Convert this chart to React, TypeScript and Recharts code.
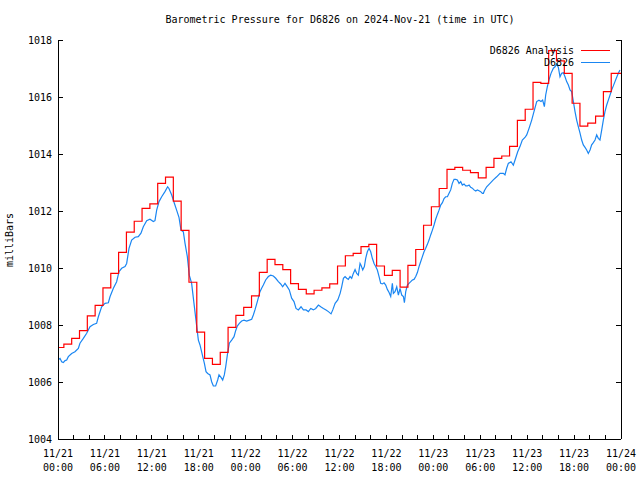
import { LineChart, Line, XAxis, YAxis } from "recharts"

// hourly analysis (step changes at hh:45)
const analysisMb = [
  1007.21, 1007.33, 1007.53, 1007.8, 1008.32, 1008.69, 1009.3, 1009.81, 1010.55, 1011.26,
  1011.64, 1012.09, 1012.25, 1012.97, 1013.19, 1012.35, 1011.32, 1009.5, 1007.75, 1006.83,
  1006.62, 1007.04, 1007.92, 1008.34, 1008.62, 1009.02, 1009.85, 1010.3, 1010.12, 1009.94,
  1009.45, 1009.25, 1009.09, 1009.22, 1009.3, 1009.44, 1010.07, 1010.43, 1010.51, 1010.75,
  1010.83, 1010.07, 1009.74, 1009.92, 1009.33, 1010.09, 1010.65, 1011.5, 1012.15, 1012.79,
  1013.46, 1013.53, 1013.43, 1013.35, 1013.16, 1013.53, 1013.85, 1013.93, 1014.27, 1015.18,
  1015.57, 1016.51, 1016.48, 1017.63, 1017.27, 1016.83, 1015.78, 1014.98, 1015.08, 1015.33,
  1016.19, 1016.83
]

// station observations, hours since 11/21 00:00
const obsHours = [
  0, 0.26, 0.47, 0.68, 0.9, 1.11, 1.32, 1.75, 2.17, 2.6, 2.81, 3.24, 3.67, 4.09, 4.52, 4.94,
  5.16, 5.58, 6.01, 6.44, 6.65, 7.08, 7.5, 7.8, 8.14, 8.57, 8.78, 9.08, 9.42, 9.85, 10.27,
  10.61, 10.91, 11.34, 11.76, 12.19, 12.4, 12.62, 12.92, 13.26, 13.68, 14.02, 14.19, 14.54,
  14.88, 15.17, 15.47, 15.73, 16.03, 16.24, 16.54, 16.79, 17.09, 17.39, 17.69, 17.95, 18.16,
  18.46, 18.72, 18.93, 19.14, 19.44, 19.65, 19.87, 20.16, 20.42, 20.59, 20.85, 21.06, 21.27,
  21.45, 21.66, 21.91, 22.21, 22.51, 22.72, 22.93, 23.19, 23.49, 23.79, 24.13, 24.47, 24.77,
  24.98, 25.19, 25.49, 25.83, 26.04, 26.26, 26.56, 26.9, 27.2, 27.54, 27.84, 28.18, 28.48,
  28.73, 29.03, 29.33, 29.58, 29.88, 30.18, 30.44, 30.74, 31.08, 31.38, 31.72, 32.02, 32.32,
  32.66, 32.96, 33.3, 33.6, 33.94, 34.28, 34.58, 34.92, 35.14, 35.44, 35.78, 36.08, 36.28,
  36.5, 36.71, 36.92, 37.13, 37.35, 37.56, 37.77, 37.99, 38.2, 38.41, 38.63, 38.75, 38.97,
  39.18, 39.35, 39.56, 39.78, 39.99, 40.2, 40.42, 40.63, 40.84, 41.06, 41.27, 41.48, 41.7,
  41.91, 42.12, 42.34, 42.55, 42.76, 42.89, 43.1, 43.32, 43.53, 43.74, 43.96, 44.17, 44.3,
  44.47, 44.68, 44.89, 45.11, 45.32, 45.53, 45.75, 45.96, 46.17, 46.38, 46.6, 46.81, 47.02,
  47.24, 47.45, 47.66, 47.88, 48.09, 48.3, 48.52, 48.73, 48.94, 49.16, 49.37, 49.58, 49.8,
  50.01, 50.22, 50.43, 50.65, 50.86, 51.07, 51.29, 51.5, 51.71, 51.93, 52.14, 52.35, 52.57,
  52.78, 52.99, 53.2, 53.42, 53.63, 53.84, 54.06, 54.27, 54.4, 54.53, 54.82, 55.25, 55.67,
  56.1, 56.53, 56.95, 57.16, 57.38, 57.59, 57.93, 58.23, 58.45, 58.79, 59.08, 59.38, 59.72,
  59.94, 60.24, 60.58, 60.87, 61.22, 61.51, 61.77, 61.98, 62.2, 62.37, 62.58, 62.79, 63.05,
  63.35, 63.56, 63.77, 63.99, 64.2, 64.41, 64.63, 64.84, 65.05, 65.27, 65.48, 65.69, 65.91,
  66.12, 66.33, 66.54, 66.76, 66.97, 67.18, 67.4, 67.61, 67.82, 68.04, 68.25, 68.46, 68.68,
  68.89, 69.1, 69.31, 69.53, 69.74, 69.95, 70.17, 70.38, 70.6, 70.81, 71.02, 71.23, 71.45,
  71.66, 71.87
]

const obsMb = [
  1006.77, 1006.83, 1006.71, 1006.68, 1006.75, 1006.77, 1006.89, 1007.0, 1007.06, 1007.18,
  1007.36, 1007.53, 1007.71, 1007.94, 1008.02, 1008.06, 1008.29, 1008.64, 1008.76, 1008.78,
  1008.99, 1009.29, 1009.52, 1009.87, 1009.99, 1010.05, 1010.16, 1010.69, 1010.98, 1011.08,
  1011.1, 1011.22, 1011.45, 1011.66, 1011.71, 1011.63, 1011.66, 1012.03, 1012.33, 1012.5,
  1012.68, 1012.85, 1012.79, 1012.56, 1012.27, 1012.03, 1011.78, 1011.33, 1011.27, 1010.87,
  1010.4, 1009.75, 1009.46, 1008.76, 1008.06, 1007.47, 1007.3, 1006.95, 1006.65, 1006.36,
  1006.3, 1006.25, 1006.01, 1005.86, 1005.86, 1006.07, 1006.25, 1006.16, 1006.07, 1006.25,
  1006.54, 1006.95, 1007.36, 1007.47, 1007.59, 1007.8, 1007.96, 1008.06, 1008.14, 1008.17,
  1008.14, 1008.17, 1008.2, 1008.35, 1008.53, 1008.82, 1009.17, 1009.29, 1009.4, 1009.58,
  1009.7, 1009.75, 1009.72, 1009.64, 1009.52, 1009.44, 1009.34, 1009.46, 1009.34, 1009.23,
  1008.94, 1008.82, 1008.58, 1008.53, 1008.64, 1008.53, 1008.53, 1008.47, 1008.58, 1008.53,
  1008.58, 1008.7, 1008.64, 1008.58, 1008.53, 1008.47, 1008.39, 1008.53, 1008.76, 1008.88,
  1009.11, 1009.34, 1009.64, 1009.7, 1009.64, 1009.6, 1009.7, 1009.64, 1009.81, 1009.95,
  1009.81, 1009.75, 1010.16, 1010.1, 1009.93, 1010.05, 1010.34, 1010.57, 1010.69, 1010.57,
  1010.34, 1010.16, 1010.05, 1009.93, 1009.7, 1009.46, 1009.44, 1009.48, 1009.4, 1009.25,
  1009.14, 1009.0, 1009.46, 1009.11, 1009.17, 1009.34, 1009.05, 1009.28, 1009.05, 1009.0,
  1008.78, 1009.17, 1009.4, 1009.46, 1009.52, 1009.58, 1009.6, 1009.7, 1009.84, 1010.05,
  1010.22, 1010.4, 1010.57, 1010.69, 1010.83, 1010.98, 1011.16, 1011.33, 1011.51, 1011.71,
  1011.88, 1012.03, 1012.21, 1012.29, 1012.44, 1012.5, 1012.5, 1012.62, 1012.74, 1012.97,
  1013.11, 1013.11, 1013.09, 1012.97, 1013.03, 1012.91, 1012.95, 1012.88, 1012.88, 1012.91,
  1012.83, 1012.8, 1012.74, 1012.7, 1012.74, 1012.71, 1012.68, 1012.62, 1012.62, 1012.71,
  1012.85, 1012.97, 1013.09, 1013.2, 1013.32, 1013.32, 1013.27, 1013.5, 1013.67, 1013.73,
  1013.61, 1013.79, 1014.08, 1014.26, 1014.49, 1014.58, 1014.67, 1014.9, 1015.19, 1015.49,
  1015.84, 1015.89, 1015.84, 1015.89, 1015.66, 1016.07, 1016.36, 1016.6, 1016.83, 1017.01,
  1017.06, 1017.16, 1017.04, 1016.71, 1016.83, 1016.85, 1016.71, 1016.54, 1016.42, 1016.25,
  1016.19, 1015.84, 1015.49, 1015.19, 1014.96, 1014.73, 1014.49, 1014.32, 1014.23, 1014.14,
  1014.02, 1014.14, 1014.32, 1014.4, 1014.49, 1014.67, 1014.55, 1014.49, 1014.84, 1015.19,
  1015.49, 1015.72, 1015.89, 1016.07, 1016.25, 1016.39, 1016.54, 1016.69, 1016.83, 1016.95
]

const xTicks = Array.from({ length: 37 }, (_, i) => i * 2)
const yTicks = [1004, 1006, 1008, 1010, 1012, 1014, 1016, 1018]

const labelDays = ["11/21", "11/21", "11/21", "11/21", "11/22", "11/22", "11/22", "11/22", "11/23", "11/23", "11/23", "11/23", "11/24"]
const labelTimes = ["00:00", "06:00", "12:00", "18:00", "00:00", "06:00", "12:00", "18:00", "00:00", "06:00", "12:00", "18:00", "00:00"]

const analysisData = analysisMb.map((mb, k) => ({ h: k === 0 ? 0 : k - 0.25, mb }))
analysisData.push({ h: 72, mb: analysisMb[analysisMb.length - 1] })

const obsData = obsHours.map((h, i) => ({ h, mb: obsMb[i] }))

const FONT = "DejaVu Sans Mono, monospace"
const RED = "#ff0000"
const BLUE = "#1a86f2"

const BottomTick = (props: any) => {
  const { x, y, payload } = props
  const v = payload.value
  const idx = v / 6
  return (
    <g>
      <line x1={x} x2={x} y1={y} y2={y - 4} stroke="#000" shapeRendering="crispEdges" />
      {v % 6 === 0 && (
        <text x={x} y={y + 18} textAnchor="middle" fontFamily={FONT} fontSize={10} fill="#000">
          <tspan x={x}>{labelDays[idx]}</tspan>
          <tspan x={x} dy={14}>{labelTimes[idx]}</tspan>
        </text>
      )}
    </g>
  )
}

const TopTick = (props: any) => {
  const { x, y } = props
  return <line x1={x} x2={x} y1={y} y2={y + 4} stroke="#000" shapeRendering="crispEdges" />
}

const LeftTick = (props: any) => {
  const { x, y, payload } = props
  return (
    <g>
      <line x1={x} x2={x + 5} y1={y} y2={y} stroke="#000" shapeRendering="crispEdges" />
      <text x={x - 6} y={y + 3.5} textAnchor="end" fontFamily={FONT} fontSize={10} fill="#000">
        {payload.value}
      </text>
    </g>
  )
}

const RightTick = (props: any) => {
  const { x, y } = props
  return <line x1={x} x2={x - 5} y1={y} y2={y} stroke="#000" shapeRendering="crispEdges" />
}

const frame = { stroke: "#000", strokeWidth: 1, shapeRendering: "crispEdges" }

export default function App() {
  return (
    <div style={{ position: "absolute", left: 0, top: 0, width: 640, height: 480, background: "#fff" }}>
      <LineChart width={640} height={480} margin={{ top: 40, right: 0, bottom: 0, left: 0 }}>
        <XAxis
          xAxisId="bottom"
          dataKey="h"
          type="number"
          domain={[0, 72]}
          ticks={xTicks}
          interval={0}
          height={41}
          tickSize={0}
          tickMargin={0}
          tickLine={false}
          axisLine={frame}
          tick={<BottomTick />}
          allowDataOverflow
        />
        <XAxis
          xAxisId="top"
          orientation="top"
          dataKey="h"
          type="number"
          domain={[0, 72]}
          ticks={xTicks}
          interval={0}
          height={0}
          tickSize={0}
          tickMargin={0}
          tickLine={false}
          axisLine={frame}
          tick={<TopTick />}
          allowDataOverflow
        />
        <YAxis
          yAxisId="left"
          type="number"
          domain={[1004, 1018]}
          ticks={yTicks}
          interval={0}
          width={58}
          tickSize={0}
          tickMargin={0}
          tickLine={false}
          axisLine={frame}
          tick={<LeftTick />}
          allowDataOverflow
        />
        <YAxis
          yAxisId="right"
          orientation="right"
          type="number"
          domain={[1004, 1018]}
          ticks={yTicks}
          interval={0}
          width={19}
          tickSize={0}
          tickMargin={0}
          tickLine={false}
          axisLine={frame}
          tick={<RightTick />}
          allowDataOverflow
        />
        <Line
          xAxisId="bottom"
          yAxisId="left"
          data={obsData}
          dataKey="mb"
          type="linear"
          stroke={BLUE}
          strokeWidth={1.2}
          dot={false}
          isAnimationActive={false}
        />
        <Line
          xAxisId="top"
          yAxisId="right"
          data={analysisData}
          dataKey="mb"
          type="stepAfter"
          stroke={RED}
          strokeWidth={1.2}
          dot={false}
          isAnimationActive={false}
        />
      </LineChart>
      <svg
        width={640}
        height={480}
        style={{ position: "absolute", left: 0, top: 0, pointerEvents: "none" }}
        fontFamily={FONT}
        fontSize={10}
      >
        <text x={340} y={23} textAnchor="middle" fill="#000">
          Barometric Pressure for D6826 on 2024-Nov-21 (time in UTC)
        </text>
        <text transform="translate(13,240) rotate(-90)" textAnchor="middle" fill="#000">
          milliBars
        </text>
        <text x={574} y={54} textAnchor="end" fill="#000">D6826 Analysis</text>
        <line x1={581} x2={610} y1={50.5} y2={50.5} stroke={RED} />
        <text x={574} y={66} textAnchor="end" fill="#000">D6826</text>
        <line x1={581} x2={610} y1={62.5} y2={62.5} stroke={BLUE} />
      </svg>
    </div>
  )
}
